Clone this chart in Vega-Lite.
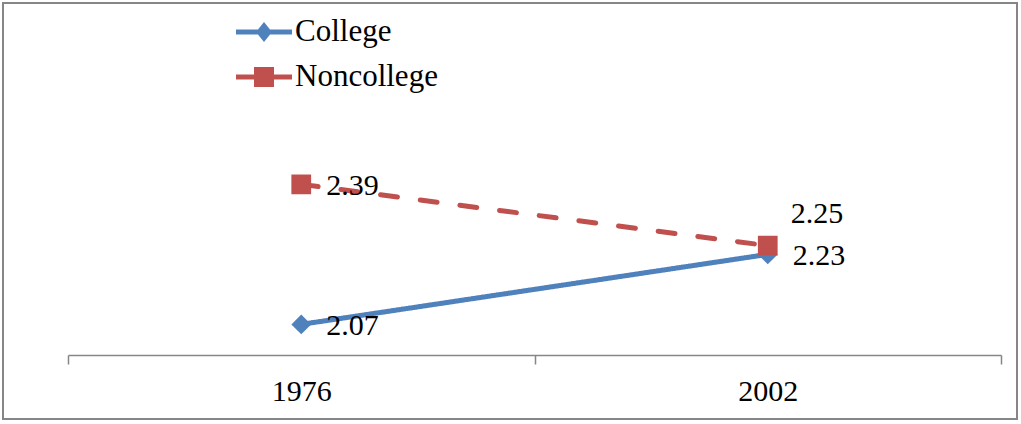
{
  "$schema": "https://vega.github.io/schema/vega-lite/v6.json",
  "width": 1014,
  "height": 416,
  "autosize": {"type": "none"},
  "padding": {"left": 3, "top": 3, "right": 4, "bottom": 5},
  "background": "white",
  "config": {
    "view": {"stroke": "#868686", "strokeWidth": 2},
    "font": "Liberation Serif"
  },
  "data": {
    "values": [
      {"year": "1976", "series": "College", "value": 2.07},
      {"year": "2002", "series": "College", "value": 2.23},
      {"year": "1976", "series": "Noncollege", "value": 2.39},
      {"year": "2002", "series": "Noncollege", "value": 2.25}
    ]
  },
  "encoding": {
    "x": {
      "field": "year", "type": "nominal",
      "scale": {"type": "band", "range": [65, 998], "paddingInner": 0, "paddingOuter": 0},
      "axis": {
        "title": null, "labelAngle": 0, "offset": -64,
        "labelFont": "Liberation Serif", "labelFontSize": 30, "labelColor": "black",
        "domainColor": "#868686", "domainWidth": 1.5,
        "tickColor": "#868686", "tickWidth": 1.5, "tickSize": 9, "tickBand": "extent",
        "labelPadding": 12
      }
    },
    "y": {
      "field": "value", "type": "quantitative",
      "scale": {"domain": [2.0, 2.5], "range": [352, 133.25], "zero": false, "nice": false},
      "axis": null
    },
    "color": {"field": "series", "type": "nominal",
      "scale": {"domain": ["College", "Noncollege"], "range": ["#4F81BD", "#C0504D"]},
      "legend": {
        "title": null, "orient": "none", "legendX": 241, "legendY": 9,
        "symbolSize": 1600, "rowPadding": 10, "labelOffset": 11,
        "labelFont": "Liberation Serif", "labelFontSize": 31, "labelColor": "black", "labelLimit": 0,
        "symbolStrokeWidth": 0,
        "encode": {
          "symbols": {
            "update": {
              "fill": {"scale": "color", "field": "value"},
              "fillOpacity": {"value": 1},
              "strokeWidth": {"value": 0},
              "shape": {"signal": "datum.value === 'College' ? 'M-1.4,-0.12L1.4,-0.12L1.4,0.12L-1.4,0.12Z M0,-0.5L0.4,0L0,0.5L-0.4,0Z' : 'M-1.4,-0.12L1.4,-0.12L1.4,0.12L-1.4,0.12Z M-0.5,-0.5L0.5,-0.5L0.5,0.5L-0.5,0.5Z'"}
            }
          }
        }
      }
    }
  },
  "layer": [
    {
      "mark": {"type": "line", "strokeWidth": 5, "strokeCap": "round"},
      "encoding": {
        "strokeDash": {"field": "series", "type": "nominal",
          "scale": {"domain": ["College", "Noncollege"], "range": [[1, 0], [17, 23]]},
          "legend": null}
      }
    },
    {
      "transform": [{"filter": "datum.series === 'College'"}],
      "mark": {"type": "point", "filled": true, "opacity": 1, "size": 390, "shape": "diamond"}
    },
    {
      "transform": [{"filter": "datum.series === 'Noncollege'"}],
      "mark": {"type": "point", "filled": true, "opacity": 1, "size": 390, "shape": "square"}
    },
    {
      "transform": [{"filter": "!(datum.series === 'Noncollege' && datum.year === '2002')"}],
      "mark": {"type": "text", "align": "left", "baseline": "middle", "dx": 25, "dy": 2,
        "font": "Liberation Serif", "fontSize": 30, "color": "black"},
      "encoding": {"text": {"field": "value", "type": "quantitative", "format": ".2f"}, "color": {"value": "black"}}
    },
    {
      "transform": [{"filter": "datum.series === 'Noncollege' && datum.year === '2002'"}],
      "mark": {"type": "text", "align": "left", "baseline": "middle", "dx": 23, "dy": -32,
        "font": "Liberation Serif", "fontSize": 30, "color": "black"},
      "encoding": {"text": {"field": "value", "type": "quantitative", "format": ".2f"}, "color": {"value": "black"}}
    }
  ]
}
